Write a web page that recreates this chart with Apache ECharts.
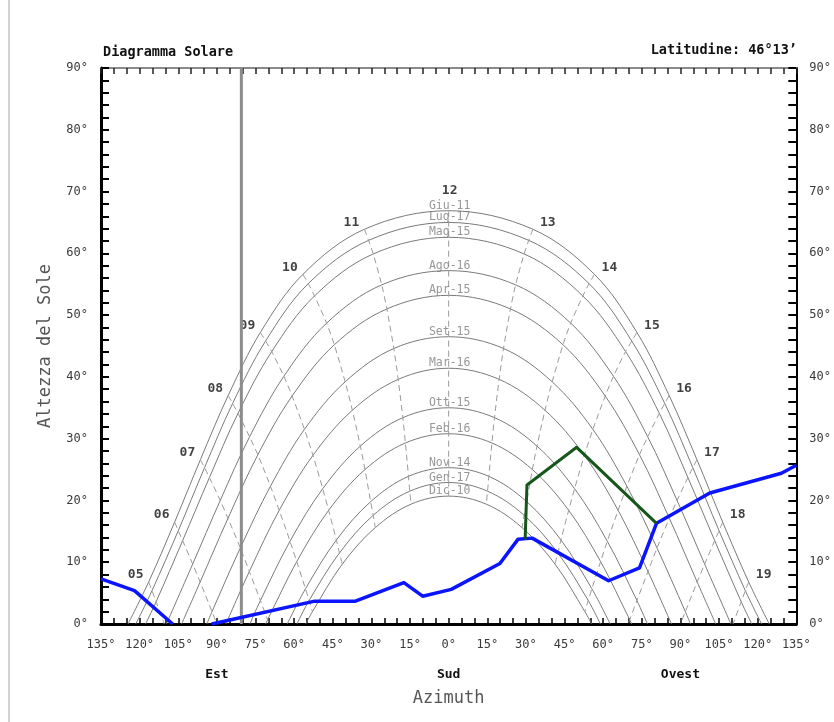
<!DOCTYPE html>
<html>
<head>
<meta charset="utf-8">
<script src="https://cdn.jsdelivr.net/npm/echarts@6.0.0/dist/echarts.min.js"></script>
<style>
  html, body { margin: 0; padding: 0; background: #fff; }
  #chart { width: 834px; height: 722px; }
</style>
</head>
<body>
<div id="chart"></div>
<script>
// Solar hours (solar time) at which the sun position is listed for each day
const HOURS = [5, 6, 7, 8, 9, 10, 11, 12, 13, 14, 15, 16, 17, 18, 19];

// Reference days, from the highest to the lowest path
const DAY_LABELS = ['Giu-11', 'Lug-17', 'Mag-15', 'Ago-16', 'Apr-15', 'Set-15',
                    'Mar-16', 'Ott-15', 'Feb-16', 'Nov-14', 'Gen-17', 'Dic-10'];

// Azimuth of sunrise (east, negative) and sunset (west, positive) for each day
const SUNRISE_AZ = [-124.5, -121.5, -117.7, -109.6, -103.7, -93.9, -86.5, -77.2, -71.1, -62.7, -58.9, -55.5];
const SUNSET_AZ  = [ 124.5,  121.5,  117.7,  109.6,  103.7,  93.9,  86.5,  77.2,  71.1,  62.7,  58.9,  55.5];

// [azimuth, altitude] of the sun at each hour of HOURS (null = below the horizon)
const PATH_GIU = [[-116.5, 6.8], [-106.4, 16.5], [-96.4, 26.6], [-85.6, 37.0], [-73.1, 47.2], [-56.6, 56.6], [-32.7, 63.9], [0, 66.9],
                  [32.7, 63.9], [56.6, 56.6], [73.1, 47.2], [85.6, 37.0], [96.4, 26.6], [106.4, 16.5], [116.5, 6.8]];
const PATH_LUG = [[-115.2, 5.4], [-105.0, 15.1], [-94.8, 25.3], [-83.9, 35.7], [-71.1, 45.8], [-54.5, 55.1], [-31.1, 62.1], [0, 65.0],
                  [31.1, 62.1], [54.5, 55.1], [71.1, 45.8], [83.9, 35.7], [94.8, 25.3], [105.0, 15.1], [115.2, 5.4]];
const PATH_MAG = [[-113.6, 3.6], [-103.3, 13.5], [-92.9, 23.7], [-81.8, 34.1], [-68.7, 44.1], [-52.1, 53.1], [-29.3, 59.9], [0, 62.6],
                  [29.3, 59.9], [52.1, 53.1], [68.7, 44.1], [81.8, 34.1], [92.9, 23.7], [103.3, 13.5], [113.6, 3.6]];
const PATH_AGO = [null, [-99.4, 9.7], [-88.7, 20.0], [-77.3, 30.3], [-64.0, 40.1], [-47.4, 48.7], [-26.0, 54.9], [0, 57.2],
                  [26.0, 54.9], [47.4, 48.7], [64.0, 40.1], [77.3, 30.3], [88.7, 20.0], [99.4, 9.7], null];
const PATH_APR = [null, [-96.5, 6.8], [-85.7, 17.1], [-74.1, 27.4], [-60.8, 36.9], [-44.4, 45.2], [-24.0, 51.0], [0, 53.2],
                  [24.0, 51.0], [44.4, 45.2], [60.8, 36.9], [74.1, 27.4], [85.7, 17.1], [96.5, 6.8], null];
const PATH_SET = [null, [-91.9, 2.0], [-80.9, 12.3], [-69.2, 22.3], [-56.0, 31.5], [-40.2, 39.2], [-21.3, 44.6], [0, 46.5],
                  [21.3, 44.6], [40.2, 39.2], [56.0, 31.5], [69.2, 22.3], [80.9, 12.3], [91.9, 2.0], null];
const PATH_MAR = [null, null, [-77.4, 8.5], [-65.8, 18.4], [-52.7, 27.3], [-37.4, 34.6], [-19.6, 39.6], [0, 41.4],
                  [19.6, 39.6], [37.4, 34.6], [52.7, 27.3], [65.8, 18.4], [77.4, 8.5], null, null];
const PATH_OTT = [null, null, [-73.1, 3.8], [-61.6, 13.4], [-48.9, 21.9], [-34.3, 28.8], [-17.8, 33.4], [0, 35.0],
                  [17.8, 33.4], [34.3, 28.8], [48.9, 21.9], [61.6, 13.4], [73.1, 3.8], null, null];
const PATH_FEB = [null, null, [-70.3, 0.7], [-59.0, 10.1], [-46.6, 18.4], [-32.5, 25.0], [-16.8, 29.3], [0, 30.8],
                  [16.8, 29.3], [32.5, 25.0], [46.6, 18.4], [59.0, 10.1], [70.3, 0.7], null, null];
const PATH_NOV = [null, null, null, [-55.6, 5.7], [-43.6, 13.6], [-30.3, 19.8], [-15.6, 23.9], [0, 25.3],
                  [15.6, 23.9], [30.3, 19.8], [43.6, 13.6], [55.6, 5.7], null, null, null];
const PATH_GEN = [null, null, null, [-54.2, 3.8], [-42.4, 11.5], [-29.3, 17.6], [-15.1, 21.5], [0, 22.9],
                  [15.1, 21.5], [29.3, 17.6], [42.4, 11.5], [54.2, 3.8], null, null, null];
const PATH_DIC = [null, null, null, [-52.9, 2.0], [-41.3, 9.7], [-28.5, 15.6], [-14.6, 19.4], [0, 20.7],
                  [14.6, 19.4], [28.5, 15.6], [41.3, 9.7], [52.9, 2.0], null, null, null];

// Azimuth where an hour line meets the horizon (null = it ends on the lowest path)
const HOUR_HORIZON_AZ = [-110.4, -90.0, -69.6, null, null, null, null, null, null, null, null, null, 69.6, 90.0, 110.4];

// Horizon profile (blue), split where it drops under 0°
const HORIZON_EAST = [[-135, 7.3], [-122, 5.4], [-107.2, 0]];
const HORIZON_SOUTH_WEST = [[-92, 0], [-52, 3.7], [-36.2, 3.7], [-17.4, 6.7], [-10.1, 4.5], [1, 5.6], [19.9, 9.8],
                            [26.9, 13.7], [32.4, 13.9], [62.1, 7.0], [74.1, 9.1], [80.7, 16.3], [101.4, 21.2],
                            [129.2, 24.4], [135, 25.7]];

// Obstacle outline (green)
const OBSTACLE = [[29.7, 13.7], [30.4, 22.5], [49.7, 28.6], [80.7, 16.3]];

// Azimuth of the vertical reference line
const MARKER_AZ = -80.5;

const PATHS = [PATH_GIU, PATH_LUG, PATH_MAG, PATH_AGO, PATH_APR, PATH_SET,
               PATH_MAR, PATH_OTT, PATH_FEB, PATH_NOV, PATH_GEN, PATH_DIC];

const MONO = '"DejaVu Sans Mono", "Liberation Mono", monospace';
const NOON = HOURS.indexOf(12);

const series = [];

// Daily sun paths: sunrise, hourly positions, sunset
PATHS.forEach((path, k) => {
  const data = [[SUNRISE_AZ[k], 0]].concat(path.filter(p => p), [[SUNSET_AZ[k], 0]]);
  series.push({
    type: 'line', data, smooth: 0.35, showSymbol: false, silent: true, z: 2,
    lineStyle: { color: '#7a7a7a', width: 1 }
  });
});

// Hour lines: same hour across all days, ending on the horizon when the sun sets before it
HOURS.forEach((h, i) => {
  const data = PATHS.map(p => p[i]).filter(p => p);
  if (HOUR_HORIZON_AZ[i] !== null) data.push([HOUR_HORIZON_AZ[i], 0]);
  series.push({
    type: 'line', data, smooth: 0.3, showSymbol: false, silent: true, z: 2,
    lineStyle: { color: '#9a9a9a', width: 1, type: [6, 4] }
  });
});

// Day names written above the noon point of each path
series.push({
  type: 'scatter', silent: true, z: 3, symbolSize: 1,
  itemStyle: { color: 'rgba(0,0,0,0)' },
  data: PATHS.map((p, k) => ({ value: p[NOON], name: DAY_LABELS[k] })),
  label: {
    show: true, position: 'inside', offset: [1, -5], formatter: d => d.name,
    fontFamily: MONO, fontSize: 11.5, color: '#7d7d7d', align: 'center', verticalAlign: 'middle'
  }
});

// Hour numbers beside the highest path
series.push({
  type: 'scatter', silent: true, z: 3, symbolSize: 1,
  itemStyle: { color: 'rgba(0,0,0,0)' },
  data: HOURS.map((h, i) => ({
    value: PATH_GIU[i],
    name: String(h).padStart(2, '0'),
    label: { offset: h < 12 ? [-13, -7] : (h > 12 ? [15, -7] : [1, -20]) }
  })),
  label: {
    show: true, position: 'inside', formatter: d => d.name,
    fontFamily: MONO, fontSize: 13, fontWeight: 'bold', color: '#111', align: 'center', verticalAlign: 'middle'
  }
});

// Vertical reference line
series.push({
  type: 'line', data: [[MARKER_AZ, 0], [MARKER_AZ, 90]], showSymbol: false, silent: true, z: 4,
  lineStyle: { color: '#8c8c8c', width: 3 }
});

// Horizon profile
[HORIZON_EAST, HORIZON_SOUTH_WEST].forEach(seg => {
  series.push({
    type: 'line', data: seg, showSymbol: false, silent: true, z: 5,
    lineStyle: { color: '#0a14ff', width: 3.5, join: 'round' }
  });
});

// Obstacle
series.push({
  type: 'line', data: OBSTACLE, showSymbol: false, silent: true, z: 6,
  lineStyle: { color: '#17561a', width: 3, join: 'round' }
});

const degLabel = { fontFamily: MONO, fontSize: 12, color: '#3a3a3a' };

const option = {
  animation: false,
  backgroundColor: '#ffffff',
  title: {
    text: 'Diagramma Solare', left: 98, top: 40,
    textStyle: { fontFamily: MONO, fontSize: 13.5, fontWeight: 'bold', color: '#111' }
  },
  graphic: [
    { type: 'line', shape: { x1: 9, y1: 0, x2: 9, y2: 722 }, style: { stroke: '#c4c4c4', lineWidth: 1.5 }, silent: true },
    { type: 'text', right: 37, top: 43, silent: true,
      style: { text: 'Latitudine: 46°13’', font: 'bold 13.5px ' + MONO, fill: '#111', textVerticalAlign: 'top' } }
  ],
  grid: { left: 101, right: 36, top: 68, bottom: 98 },
  xAxis: [
    {
      type: 'value', position: 'bottom', min: -135, max: 135, interval: 5,
      axisLine: { onZero: false, lineStyle: { color: '#000', width: 3 } },
      axisTick: { inside: true, length: 6, lineStyle: { color: '#000', width: 1.5 } },
      axisLabel: Object.assign({ margin: 15, formatter: v => (v % 15 === 0 ? Math.abs(v) + '°' : '') }, degLabel),
      splitLine: { show: false }
    },
    {
      type: 'value', position: 'top', min: -135, max: 135, interval: 5,
      axisLine: { onZero: false, lineStyle: { color: '#8a8a8a', width: 2 } },
      axisTick: { inside: true, length: 6, lineStyle: { color: '#222', width: 1.5 } },
      axisLabel: { show: false },
      splitLine: { show: false }
    },
    {
      type: 'value', position: 'bottom', offset: 44, min: -135, max: 135, interval: 45,
      axisLine: { show: false }, axisTick: { show: false }, splitLine: { show: false },
      axisLabel: {
        margin: 0, fontFamily: MONO, fontSize: 13, fontWeight: 'bold', color: '#111',
        formatter: v => (v === -90 ? 'Est' : v === 0 ? 'Sud' : v === 90 ? 'Ovest' : '')
      },
      name: 'Azimuth', nameLocation: 'middle', nameGap: 22,
      nameTextStyle: { fontFamily: MONO, fontSize: 17, color: '#555' }
    }
  ],
  yAxis: [
    {
      type: 'value', position: 'left', min: 0, max: 90, interval: 2,
      axisLine: { show: true, onZero: false, lineStyle: { color: '#000', width: 3 } },
      axisTick: { show: true, inside: true, length: 8, lineStyle: { color: '#000', width: 2 } },
      axisLabel: Object.assign({ margin: 13, formatter: v => (v % 10 === 0 ? v + '°' : '') }, degLabel),
      splitLine: { show: false },
      name: 'Altezza del Sole', nameLocation: 'middle', nameGap: 47,
      nameTextStyle: { fontFamily: MONO, fontSize: 17, color: '#555' }
    },
    {
      type: 'value', position: 'right', min: 0, max: 90, interval: 2,
      axisLine: { show: true, onZero: false, lineStyle: { color: '#000', width: 2 } },
      axisTick: { show: true, inside: true, length: 8, lineStyle: { color: '#000', width: 2 } },
      axisLabel: Object.assign({ margin: 13, formatter: v => (v % 10 === 0 ? v + '°' : '') }, degLabel),
      splitLine: { show: false }
    }
  ],
  series
};

const chart = echarts.init(document.getElementById('chart'), null, { renderer: 'canvas' });
chart.setOption(option);
</script>
</body>
</html>
